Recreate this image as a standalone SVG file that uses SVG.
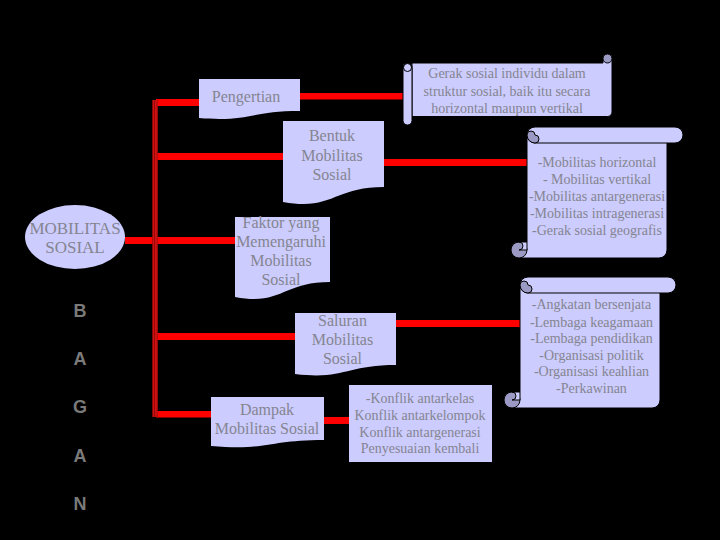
<svg xmlns="http://www.w3.org/2000/svg" width="720" height="540" viewBox="0 0 720 540">
<defs>
<style>
.bg{fill:#000}
.box{fill:#ccccff}
.scr{fill:#ccccff;stroke:#000;stroke-width:1}
.shade{fill:#9a9ac4;stroke:#000;stroke-width:1}
.bar{fill:#ff0000}
.t{font-family:"Liberation Serif","Times New Roman",serif;fill:#858590;text-anchor:middle}
.s14{font-size:14px}
.s16{font-size:16px}
.s17{font-size:17px}
.bag{font-family:"Liberation Sans",Arial,sans-serif;font-size:18px;font-weight:bold;fill:#7a7a7a;text-anchor:middle}
</style>
<g id="vscroll">
<path class="scr" d="M16,8 H156 V123 A8,8 0 0 1 148,131 H8 A8,8 0 0 1 8,115 H16 Z"/>
<path class="scr" d="M24,0 H164 A8,8 0 0 1 164,16 H24 A8,8 0 0 1 24,0 Z"/>
<path class="shade" d="M24,16 A8,8 0 0 1 16,8 A4,4 0 0 1 24,8 A4,4 0 0 1 24,16 Z"/>
<circle class="shade" cx="8" cy="123" r="8"/>
<path class="scr" d="M8,115 A4,4 0 0 1 8,123 H16 V115 Z"/>
</g>
</defs>
<rect class="bg" x="0" y="0" width="720" height="540"/>

<g id="connectors">
<rect class="bar" x="156" y="99" width="43" height="7"/>
<rect class="bar" x="300" y="93" width="108" height="6.5"/>
<rect class="bar" x="156" y="153" width="127" height="7"/>
<rect class="bar" x="384" y="159" width="150" height="7"/>
<rect class="bar" x="125" y="237" width="110" height="7"/>
<rect class="bar" x="156" y="333" width="139" height="7"/>
<rect class="bar" x="396" y="320" width="126" height="7"/>
<rect class="bar" x="156" y="411" width="55" height="6.5"/>
<rect class="bar" x="324" y="417" width="30" height="7"/>
<rect x="152.3" y="100" width="5.4" height="317" fill="#6b0000"/>
<line x1="153.2" y1="100" x2="153.2" y2="417" stroke="#ff1a1a" stroke-width="1"/>
<line x1="155.2" y1="100" x2="155.2" y2="417" stroke="#ff1a1a" stroke-width="1"/>
<line x1="156.9" y1="100" x2="156.9" y2="417" stroke="#ff1a1a" stroke-width="1"/>
</g>

<g id="mobilitas-sosial">
<ellipse class="box" cx="75" cy="237" rx="50" ry="32"/>
<text class="t s17" x="75" y="234">MOBILITAS</text>
<text class="t s17" x="75" y="253">SOSIAL</text>
</g>

<g id="pengertian">
<path class="box" d="M199,79 H300 V111 C250,111 250,122 199,118 Z"/>
<text class="t s16" x="246" y="101.5">Pengertian</text>
</g>

<g id="def-scroll">
<g transform="translate(403,54)">
<path class="scr" d="M9,9 H200 V4.5 A4.5,4.5 0 0 1 209,4.5 V58 A4.5,4.5 0 0 1 204.5,62.5 H9 Z"/>
<circle class="shade" cx="204.5" cy="4.5" r="4.5"/>
<rect class="scr" x="0" y="9" width="9" height="62" rx="4.5" ry="4.5"/>
<circle cx="4.5" cy="13.5" r="4" fill="none" stroke="#000" stroke-width="1"/>
</g>
<text class="t s14" x="507" y="78">Gerak sosial individu dalam</text>
<text class="t s14" x="507" y="96">struktur sosial, baik itu secara</text>
<text class="t s14" x="507" y="113">horizontal maupun vertikal</text>
</g>

<g id="bentuk">
<path class="box" d="M283,121 H384 V187 C333,187 333,211 283,202 Z"/>
<text class="t s16" x="332" y="140.5">Bentuk</text>
<text class="t s16" x="332" y="160.5">Mobilitas</text>
<text class="t s16" x="332" y="179.5">Sosial</text>
</g>

<g id="bentuk-scroll">
<use href="#vscroll" transform="translate(511,127)"/>
<text class="t s14" x="597" y="167">-Mobilitas horizontal</text>
<text class="t s14" x="597" y="184"> - Mobilitas vertikal</text>
<text class="t s14" x="597" y="201">-Mobilitas antargenerasi</text>
<text class="t s14" x="597" y="218">-Mobilitas intragenerasi</text>
<text class="t s14" x="597" y="235">-Gerak sosial geografis</text>
</g>

<g id="faktor">
<path class="box" d="M235,217 H330 V282 C282,282 282,306 235,297 Z"/>
<text class="t s16" x="281" y="228">Faktor yang</text>
<text class="t s16" x="281" y="247">Memengaruhi</text>
<text class="t s16" x="281" y="266">Mobilitas</text>
<text class="t s16" x="281" y="284.5">Sosial</text>
</g>

<g id="saluran">
<path class="box" d="M295,313 H396 V365 C345,365 345,380 295,374 Z"/>
<text class="t s16" x="342.5" y="325.5">Saluran</text>
<text class="t s16" x="342.5" y="344.5">Mobilitas</text>
<text class="t s16" x="342.5" y="364">Sosial</text>
</g>

<g id="saluran-scroll">
<use href="#vscroll" transform="translate(504,277)"/>
<text class="t s14" x="591.5" y="309">-Angkatan bersenjata</text>
<text class="t s14" x="591.5" y="326.5">-Lembaga keagamaan</text>
<text class="t s14" x="591.5" y="343">-Lembaga pendidikan</text>
<text class="t s14" x="591.5" y="360">-Organisasi politik</text>
<text class="t s14" x="591.5" y="376">-Organisasi keahlian</text>
<text class="t s14" x="591.5" y="393">-Perkawinan</text>
</g>

<g id="dampak">
<path class="box" d="M211,397 H324 V440 C267,440 267,451 211,446 Z"/>
<text class="t s16" x="267" y="414.5">Dampak</text>
<text class="t s16" x="267" y="433.5">Mobilitas Sosial</text>
</g>

<g id="konflik">
<rect class="box" x="349" y="385" width="143" height="77"/>
<text class="t s14" x="420" y="403">-Konflik antarkelas</text>
<text class="t s14" x="420" y="420">Konflik antarkelompok</text>
<text class="t s14" x="420" y="437">Konflik antargenerasi</text>
<text class="t s14" x="420" y="453">Penyesuaian kembali</text>
</g>

<g id="bagan">
<text class="bag" x="80" y="317">B</text>
<text class="bag" x="80" y="365">A</text>
<text class="bag" x="80" y="413">G</text>
<text class="bag" x="80" y="462">A</text>
<text class="bag" x="80" y="510">N</text>
</g>
</svg>
